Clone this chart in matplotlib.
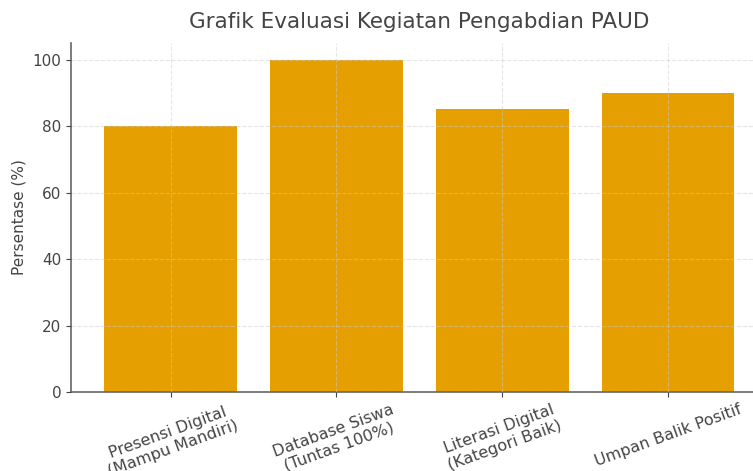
import matplotlib.pyplot as plt

categories = ["Presensi Digital\n(Mampu Mandiri)", "Database Siswa\n(Tuntas 100%)",
              "Literasi Digital\n(Kategori Baik)", "Umpan Balik Positif"]
values = [80, 100, 85, 90]

fig = plt.figure(figsize=(7.53, 4.71), dpi=100)
ax = fig.add_axes([0.0943, 0.1677, 0.925, 0.741])

ax.bar(range(len(values)), values, width=0.8, color="#E69F00", zorder=2)
ax.grid(True, linestyle="--", color="#cccccc", linewidth=0.8, alpha=0.5, zorder=3)
ax.set_axisbelow(False)

ax.set_xlim(-0.6, 3.6)
ax.set_ylim(0, 105)
ax.set_xticks(range(len(values)))
ax.set_xticklabels(categories, rotation=20, ha="center", color="#444444", fontsize=11.5)
ax.set_yticks([0, 20, 40, 60, 80, 100])
ax.tick_params(axis="y", colors="#444444", labelsize=11)
ax.tick_params(axis="x", colors="#444444")

for s in ["top", "right"]:
    ax.spines[s].set_visible(False)
for s in ["left", "bottom"]:
    ax.spines[s].set_color("#666666")
    ax.spines[s].set_linewidth(1.2)

ax.set_ylabel("Persentase (%)", color="#444444", fontsize=11)
ax.set_title("Grafik Evaluasi Kegiatan Pengabdian PAUD", color="#444444", fontsize=15.5, pad=11)

fig.savefig("out.png", dpi=100)
